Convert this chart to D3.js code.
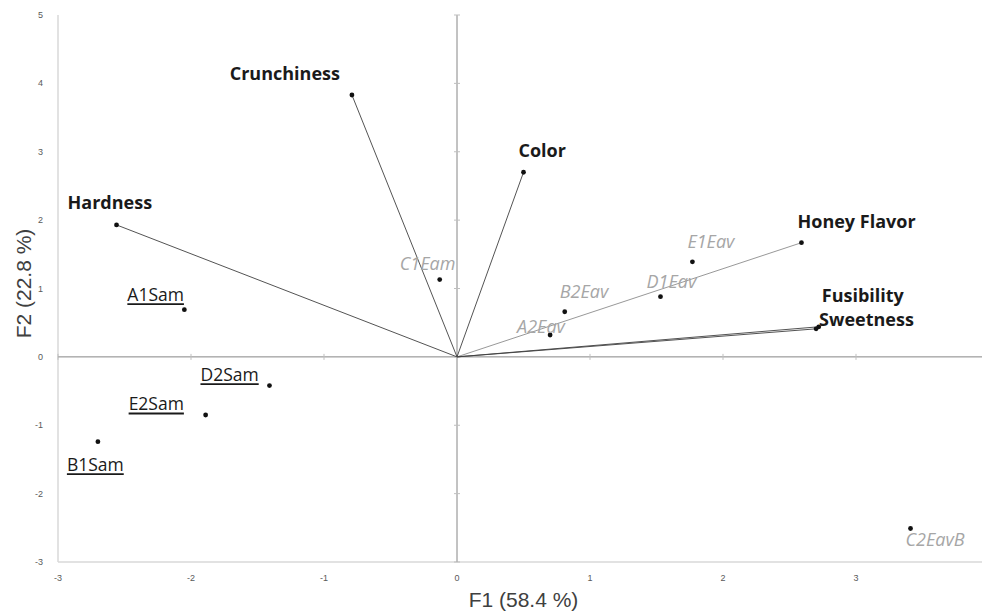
<!DOCTYPE html>
<html>
<head>
<meta charset="utf-8">
<script src="https://cdn.jsdelivr.net/npm/d3@7/dist/d3.min.js"></script>
<style>
  body { margin: 0; background: #fff; }
  svg { display: block; }
</style>
</head>
<body>
<div id="container"></div>
<script>
// variables (drawn as vectors from origin)
const varNames = ['Crunchiness', 'Color', 'Hardness', 'Honey Flavor', 'Fusibility', 'Sweetness'];
const varF1 = [-0.79, 0.50, -2.56, 2.59, 2.72, 2.70];
const varF2 = [3.83, 2.70, 1.93, 1.67, 0.44, 0.41];

// observations, two groups
const eavNames = ['C1Eam', 'E1Eav', 'D1Eav', 'B2Eav', 'A2Eav', 'C2EavB'];
const eavF1 = [-0.13, 1.77, 1.53, 0.81, 0.70, 3.41];
const eavF2 = [1.13, 1.39, 0.88, 0.66, 0.32, -2.51];

const samNames = ['A1Sam', 'D2Sam', 'E2Sam', 'B1Sam'];
const samF1 = [-2.05, -1.41, -1.89, -2.70];
const samF2 = [0.69, -0.42, -0.85, -1.24];

const xTicks = [-3, -2, -1, 0, 1, 2, 3];
const yTicks = [-3, -2, -1, 0, 1, 2, 3, 4, 5];

// label offsets in px (dx, dy of label anchor relative to point)
const labelPos = {
  'Crunchiness': [-12, -15, 'end'],
  'Color': [-5, -15, 'start'],
  'Hardness': [-49, -16, 'start'],
  'Honey Flavor': [-4, -15, 'start'],
  'Fusibility': [3, -25, 'start'],
  'Sweetness': [3, -3, 'start'],
  'C1Eam': [-40, -10, 'start'],
  'E1Eav': [-5, -14, 'start'],
  'D1Eav': [-14, -9, 'start'],
  'B2Eav': [-5, -14, 'start'],
  'A2Eav': [-33, -2, 'start'],
  'C2EavB': [-5, 18, 'start'],
  'A1Sam': [-57, -9, 'start'],
  'D2Sam': [-69, -5, 'start'],
  'E2Sam': [-77, -5, 'start'],
  'B1Sam': [-31, 29, 'start']
};

const width = 982, height = 612;
const svg = d3.select('#container').append('svg')
  .attr('width', width).attr('height', height);

const x = d3.scaleLinear().domain([-3, 0]).range([58, 457]);
const y = d3.scaleLinear().domain([-3, 5]).range([562, 15]);

// frame: left and bottom borders
svg.append('line').attr('x1', x(-3)).attr('x2', x(-3)).attr('y1', y(5)).attr('y2', y(-3))
  .attr('stroke', '#d9d9d9').attr('stroke-width', 1.5);
svg.append('line').attr('x1', x(-3)).attr('x2', width).attr('y1', y(-3)).attr('y2', y(-3))
  .attr('stroke', '#d9d9d9').attr('stroke-width', 1.5);

// zero axes
svg.append('line').attr('x1', x(-3)).attr('x2', width).attr('y1', y(0)).attr('y2', y(0))
  .attr('stroke', '#868686').attr('stroke-width', 1);
svg.append('line').attr('x1', x(0)).attr('x2', x(0)).attr('y1', y(5)).attr('y2', y(-3))
  .attr('stroke', '#868686').attr('stroke-width', 1);

// small tick marks on zero axes
svg.selectAll('.ytk').data(yTicks).enter().append('line')
  .attr('x1', x(0) - 3).attr('x2', x(0) + 3)
  .attr('y1', d => y(d)).attr('y2', d => y(d))
  .attr('stroke', '#bfbfbf');
svg.selectAll('.xtk').data(xTicks).enter().append('line')
  .attr('x1', d => x(d)).attr('x2', d => x(d))
  .attr('y1', y(0) - 3).attr('y2', y(0) + 3)
  .attr('stroke', '#bfbfbf');

// tick labels
svg.selectAll('.xl').data(xTicks).enter().append('text')
  .attr('x', d => x(d)).attr('y', y(-3) + 19)
  .attr('text-anchor', 'middle')
  .style('font', '9px "Liberation Sans", sans-serif')
  .attr('fill', '#595959')
  .text(d => d);
svg.selectAll('.yl').data(yTicks).enter().append('text')
  .attr('x', 43).attr('y', d => y(d) + 3)
  .attr('text-anchor', 'end')
  .style('font', '9px "Liberation Sans", sans-serif')
  .attr('fill', '#595959')
  .text(d => d);

// axis titles, centred on the plot area
svg.append('text').attr('x', (x(-3) + x(4)) / 2).attr('y', 607).attr('text-anchor', 'middle')
  .style('font', '21px "Liberation Sans", sans-serif')
  .attr('fill', '#404040').text('F1 (58.4 %)');
svg.append('text').attr('transform', `translate(31, ${(y(5) + y(-3)) / 2 - 5}) rotate(-90)`)
  .attr('text-anchor', 'middle')
  .style('font', '21px "Liberation Sans", sans-serif')
  .attr('fill', '#404040').text('F2 (22.8 %)');

// variable vectors
const vars = varNames.map((n, i) => ({name: n, f1: varF1[i], f2: varF2[i]}));
svg.selectAll('.vec').data(vars).enter().append('line')
  .attr('x1', x(0)).attr('y1', y(0))
  .attr('x2', d => x(d.f1)).attr('y2', d => y(d.f2))
  .attr('stroke', d => d.name === 'Honey Flavor' ? '#8c8c8c' : '#404040')
  .attr('stroke-width', 0.9);

const eav = eavNames.map((n, i) => ({name: n, f1: eavF1[i], f2: eavF2[i]}));
const sam = samNames.map((n, i) => ({name: n, f1: samF1[i], f2: samF2[i]}));
const all = vars.concat(eav, sam);

svg.selectAll('.dot').data(all).enter().append('circle')
  .attr('cx', d => x(d.f1)).attr('cy', d => y(d.f2))
  .attr('r', 2.4).attr('fill', '#111');

function place(sel) {
  sel.attr('x', d => x(d.f1) + labelPos[d.name][0])
    .attr('y', d => y(d.f2) + labelPos[d.name][1])
    .attr('text-anchor', d => labelPos[d.name][2]);
}

svg.selectAll('.vl').data(vars).enter().append('text')
  .call(place)
  .style('font', 'bold 18px "Open Sans", sans-serif')
  .attr('fill', '#1a1a1a')
  .text(d => d.name);

svg.selectAll('.el').data(eav).enter().append('text')
  .call(place)
  .style('font', 'italic 18px "Open Sans", sans-serif')
  .attr('fill', '#a6a6a6')
  .text(d => d.name);

const samText = svg.selectAll('.sl').data(sam).enter().append('text')
  .call(place)
  .style('font', '17.5px "Open Sans", sans-serif')
  .attr('fill', '#1a1a1a')
  .text(d => d.name);

// thicker underline like the original
samText.each(function(d) {
  const b = this.getBBox();
  const by = y(d.f2) + labelPos[d.name][1] + 3.5;
  svg.append('line')
    .attr('x1', b.x).attr('x2', b.x + b.width)
    .attr('y1', by).attr('y2', by)
    .attr('stroke', '#1a1a1a').attr('stroke-width', 1.8);
});
</script>
</body>
</html>
